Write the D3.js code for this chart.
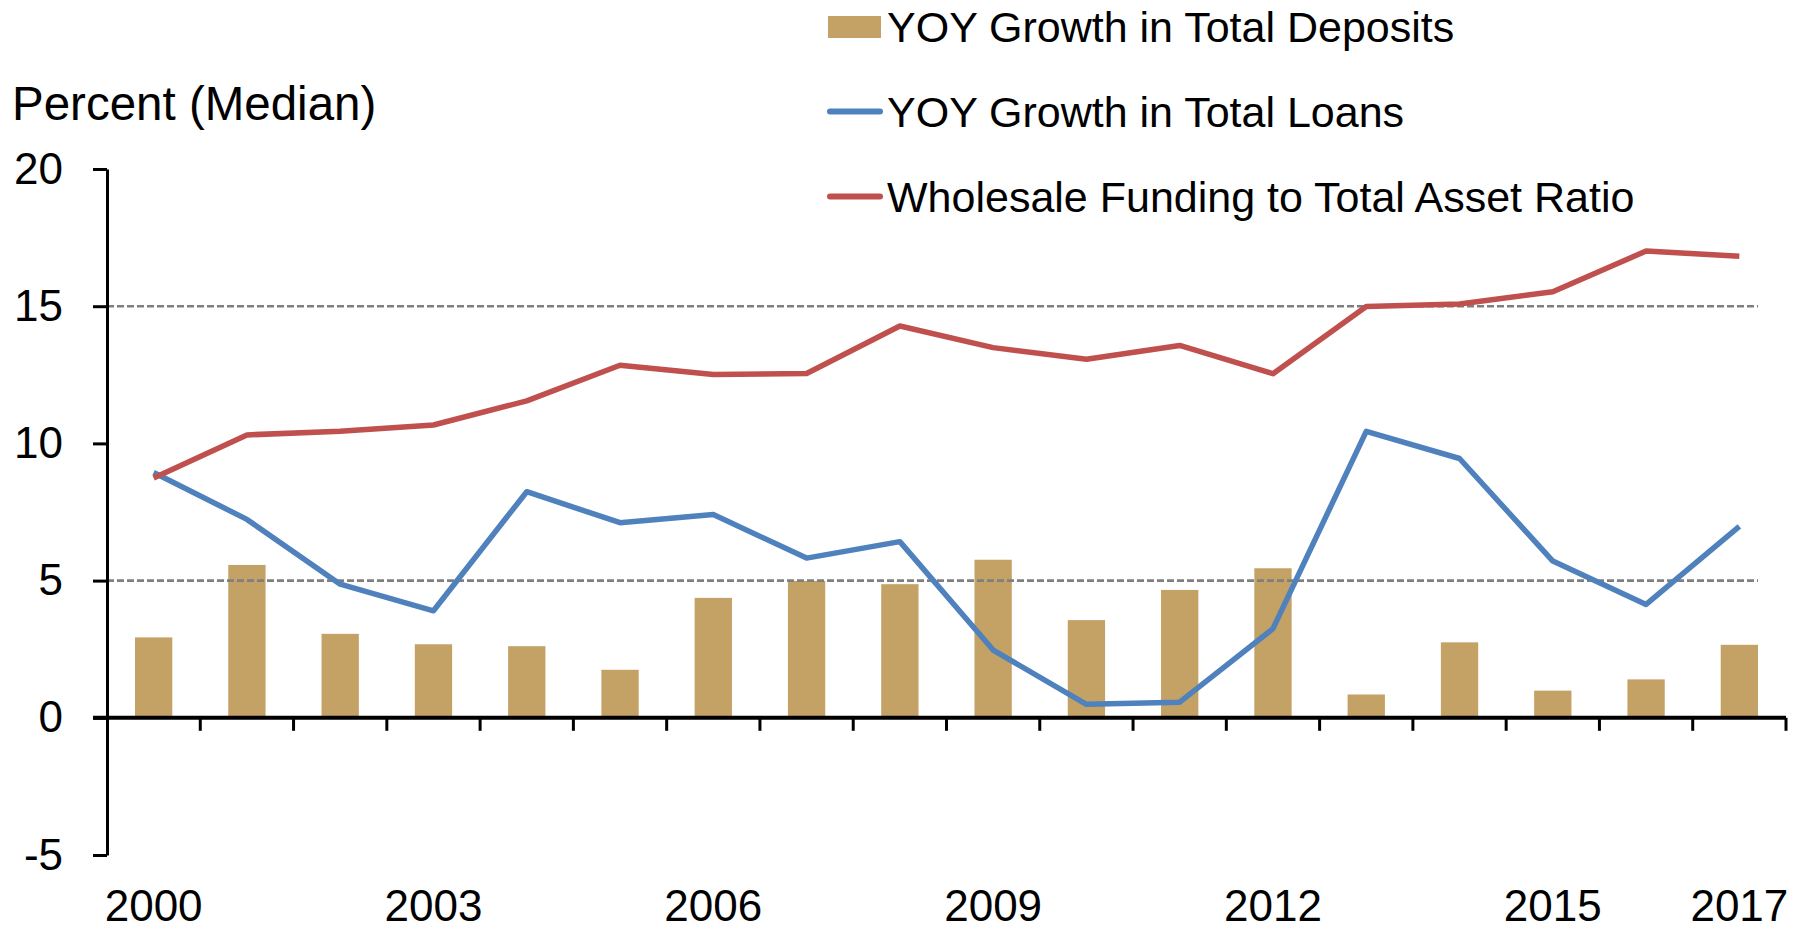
<!DOCTYPE html>
<html>
<head>
<meta charset="utf-8">
<script src="https://cdn.jsdelivr.net/npm/d3@7"></script>
<style>
  body { margin: 0; background: #fff; }
  text { font-family: "Liberation Sans", Arial, sans-serif; fill: #000; }
</style>
</head>
<body>
<div id="chart"></div>
<script>
var years = ["2000", "2001", "2002", "2003", "2004", "2005", "2006", "2007", "2008",
             "2009", "2010", "2011", "2012", "2013", "2014", "2015", "2016", "2017"];
var deposits = [2.93, 5.57, 3.06, 2.68, 2.61, 1.75, 4.37, 4.99, 4.87, 5.76, 3.56, 4.66, 5.45, 0.85, 2.75, 0.99, 1.40, 2.66];
var loans = [8.94, 7.23, 4.87, 3.90, 8.24, 7.11, 7.41, 5.82, 6.42, 2.47, 0.49, 0.57, 3.25, 10.44, 9.45, 5.71, 4.13, 6.98];
var wholesale = [8.74, 10.31, 10.44, 10.67, 11.55, 12.85, 12.51, 12.55, 14.28, 13.49, 13.07, 13.57, 12.54, 14.99, 15.08, 15.53, 17.01, 16.82];
var xTickLabels = ["2000", "2003", "2006", "2009", "2012", "2015", "2017"];
var yTicks = [-5, 0, 5, 10, 15, 20];
var gridValues = [5, 15];
var seriesNames = ["YOY Growth in Total Deposits", "YOY Growth in Total Loans", "Wholesale Funding to Total Asset Ratio"];

var width = 1806, height = 930;
var plotLeft = 107, plotRight = 1786, plotTop = 169, plotBottom = 855;

var svg = d3.select("#chart").append("svg")
    .attr("width", width)
    .attr("height", height);

var x = d3.scaleBand()
    .domain(years)
    .range([plotLeft, plotRight])
    .padding(0);

var y = d3.scaleLinear()
    .domain([-5, 20])
    .range([plotBottom, plotTop]);

var barW = x.bandwidth() * 0.4;
function cx(d) { return x(d) + x.bandwidth() / 2; }

// bars
svg.selectAll(".bar")
    .data(years)
    .enter().append("rect")
    .attr("class", "bar")
    .attr("x", function(d) { return cx(d) - barW / 2; })
    .attr("y", function(d, i) { return y(deposits[i]); })
    .attr("width", barW)
    .attr("height", function(d, i) { return y(0) - y(deposits[i]); })
    .style("fill", "#C4A265");

// dashed gridlines
svg.selectAll(".grid")
    .data(gridValues)
    .enter().append("line")
    .attr("class", "grid")
    .attr("x1", plotLeft)
    .attr("x2", cx(years[years.length - 1]) + barW / 2)
    .attr("y1", function(d) { return y(d); })
    .attr("y2", function(d) { return y(d); })
    .style("stroke", "#7F7F7F")
    .style("stroke-width", 2.6)
    .style("stroke-dasharray", "7,3");

// lines
var line = d3.line()
    .x(function(d) { return cx(d.year); })
    .y(function(d) { return y(d.value); });

function toPoints(vals) {
  return years.map(function(yr, i) { return {year: yr, value: vals[i]}; });
}

svg.append("path")
    .datum(toPoints(loans))
    .attr("d", line)
    .style("fill", "none")
    .style("stroke", "#4F81BD")
    .style("stroke-width", 5.5)
    .style("stroke-linejoin", "round");

svg.append("path")
    .datum(toPoints(wholesale))
    .attr("d", line)
    .style("fill", "none")
    .style("stroke", "#C0504D")
    .style("stroke-width", 5.5)
    .style("stroke-linejoin", "round");

// y axis
var yAxis = d3.axisLeft(y)
    .tickValues(yTicks)
    .tickSizeInner(14)
    .tickSizeOuter(0)
    .tickPadding(30)
    .tickFormat(function(d) { return String(d); });

var yg = svg.append("g")
    .attr("transform", "translate(" + plotLeft + ",0)")
    .call(yAxis);
yg.select(".domain").style("stroke", "#000").style("stroke-width", 3);
yg.selectAll(".tick line").style("stroke", "#000").style("stroke-width", 3);
yg.selectAll(".tick text")
    .style("font-size", "44px")
    .style("font-family", "'Liberation Sans', Arial, sans-serif");

// x axis at zero
svg.append("line")
    .attr("x1", plotLeft - 14)
    .attr("x2", plotRight)
    .attr("y1", y(0))
    .attr("y2", y(0))
    .style("stroke", "#000")
    .style("stroke-width", 4);

svg.selectAll(".xtick")
    .data(years.slice(1).concat(["end"]))
    .enter().append("line")
    .attr("class", "xtick")
    .attr("x1", function(d) { return d === "end" ? plotRight : x(d); })
    .attr("x2", function(d) { return d === "end" ? plotRight : x(d); })
    .attr("y1", y(0))
    .attr("y2", y(0) + 13)
    .style("stroke", "#000")
    .style("stroke-width", 3);

svg.selectAll(".xlabel")
    .data(xTickLabels)
    .enter().append("text")
    .attr("class", "xlabel")
    .attr("x", function(d) { return cx(d); })
    .attr("y", 921)
    .attr("text-anchor", "middle")
    .style("font-size", "44px")
    .text(function(d) { return d; });

// axis title
svg.append("text")
    .attr("x", 12)
    .attr("y", 120)
    .style("font-size", "47.5px")
    .text("Percent (Median)");

// legend
var legendX = 828, legendRows = [27, 111.5, 196.5];
var legendColors = ["#C4A265", "#4F81BD", "#C0504D"];

var lg = svg.selectAll(".legend")
    .data(seriesNames)
    .enter().append("g")
    .attr("class", "legend")
    .attr("transform", function(d, i) { return "translate(" + legendX + "," + legendRows[i] + ")"; });

lg.each(function(d, i) {
  var g = d3.select(this);
  if (i === 0) {
    g.append("rect")
        .attr("x", 0)
        .attr("y", -11)
        .attr("width", 53)
        .attr("height", 22)
        .style("fill", legendColors[i]);
  } else {
    g.append("line")
        .attr("x1", 2)
        .attr("x2", 52)
        .attr("y1", 0)
        .attr("y2", 0)
        .style("stroke", legendColors[i])
        .style("stroke-width", 6)
        .style("stroke-linecap", "round");
  }
  g.append("text")
      .attr("x", 59)
      .attr("y", 15)
      .style("font-size", "43px")
      .text(d);
});
</script>
</body>
</html>
